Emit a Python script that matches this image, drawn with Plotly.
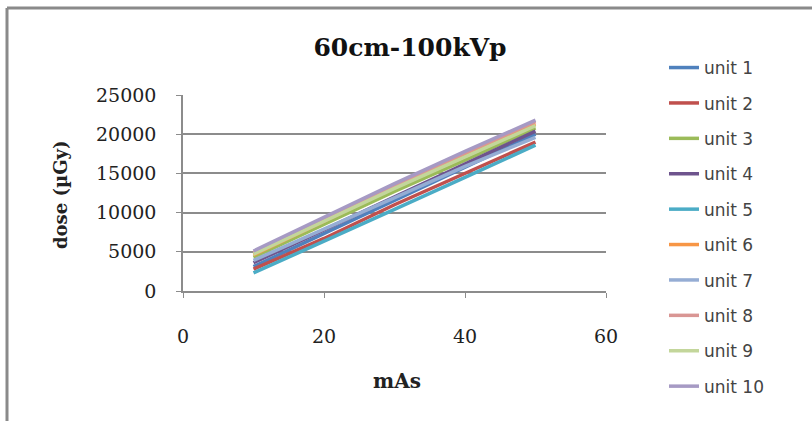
import plotly.graph_objects as go

# mAs settings used for each exposure
mas = [10, 20, 30, 40, 50]

# measured dose (µGy) per x-ray unit at 60 cm, 100 kVp
unit_1 = [3100, 7300, 11500, 15800, 20000]
unit_2 = [2800, 6700, 11000, 15000, 19000]
unit_3 = [4300, 8500, 12700, 16700, 20800]
unit_4 = [3600, 7800, 12000, 16300, 20400]
unit_5 = [2300, 6300, 10400, 14500, 18600]
unit_6 = [4600, 8900, 13200, 17200, 21300]
unit_7 = [3900, 7900, 12000, 15900, 19600]
unit_8 = [4900, 9200, 13500, 17600, 21600]
unit_9 = [4700, 8900, 13100, 17100, 21100]
unit_10 = [5100, 9400, 13700, 17800, 21800]

unit_names = ["unit 1", "unit 2", "unit 3", "unit 4", "unit 5",
              "unit 6", "unit 7", "unit 8", "unit 9", "unit 10"]
unit_doses = [unit_1, unit_2, unit_3, unit_4, unit_5,
              unit_6, unit_7, unit_8, unit_9, unit_10]
unit_colors = ["#4F81BD", "#C0504D", "#9BBB59", "#6E548D", "#4BACC6",
               "#F79646", "#95ADD4", "#D99694", "#C3D69B", "#A69AC4"]

x_ticks = [0, 20, 40, 60]
y_ticks = [0, 5000, 10000, 15000, 20000, 25000]

serif = "DejaVu Serif, Times New Roman, serif"

fig = go.Figure()
for name, dose, color in zip(unit_names, unit_doses, unit_colors):
    fig.add_trace(go.Scatter(
        x=mas, y=dose, name=name, mode="lines",
        line=dict(color=color, width=3.5),
        legendgroup=name,
    ))

fig.update_layout(
    width=812, height=421,
    margin=dict(l=183, r=206, t=95, b=130),
    paper_bgcolor="white", plot_bgcolor="white",
    showlegend=True,
    title=dict(
        text="<b>60cm-100kVp</b>",
        font=dict(family=serif, size=25, color="#111"),
        x=410 / 812, xanchor="center",
        y=1 - 47 / 421, yanchor="middle",
    ),
    legend=dict(
        x=1.0 + (664 - 606) / 423, xanchor="left",
        y=1 + (95 - 50) / 196, yanchor="top",
        font=dict(family="DejaVu Sans, Verdana, sans-serif", size=17, color="#444"),
        tracegroupgap=10.3,
        maxheight=420,
        bgcolor="rgba(0,0,0,0)",
    ),
    xaxis=dict(
        range=[0, 60], tickvals=x_ticks, ticktext=[str(v) for v in x_ticks],
        showgrid=False, zeroline=False,
        showline=True, linecolor="#8c8c8c", linewidth=1.5,
        ticks="outside", ticklen=5, tickcolor="#8c8c8c",
        ticklabelstandoff=22,
        tickfont=dict(family=serif, size=19, color="#222"),
        fixedrange=True,
    ),
    yaxis=dict(
        range=[0, 25000], tickvals=y_ticks, ticktext=[str(v) for v in y_ticks],
        showgrid=True, gridcolor="#8c8c8c", gridwidth=1.5,
        zeroline=False,
        showline=True, linecolor="#8c8c8c", linewidth=1.5,
        ticks="outside", ticklen=5, tickcolor="#8c8c8c",
        ticklabelstandoff=16,
        tickfont=dict(family=serif, size=19, color="#222"),
        fixedrange=True,
    ),
    annotations=[
        dict(text="<b>mAs</b>", xref="paper", yref="paper",
             x=(397 - 183) / 423, y=(291 - 381) / 196,
             xanchor="center", yanchor="middle", showarrow=False,
             font=dict(family=serif, size=20, color="#222")),
        dict(text="<b>dose (µGy)</b>", xref="paper", yref="paper",
             x=(60 - 183) / 423, y=(291 - 195) / 196, textangle=-90,
             xanchor="center", yanchor="middle", showarrow=False,
             font=dict(family=serif, size=18, color="#222")),
    ],
    shapes=[
        # outer chart frame (top and left edges)
        dict(type="line", xref="paper", yref="paper",
             x0=(7 - 183) / 423, x1=(812 - 183) / 423,
             y0=(291 - 8) / 196, y1=(291 - 8) / 196,
             line=dict(color="#8a8a8a", width=3)),
        dict(type="line", xref="paper", yref="paper",
             x0=(7 - 183) / 423, x1=(7 - 183) / 423,
             y0=(291 - 8) / 196, y1=(291 - 421) / 196,
             line=dict(color="#8a8a8a", width=3)),
    ],
)

fig.write_html("out.html")
